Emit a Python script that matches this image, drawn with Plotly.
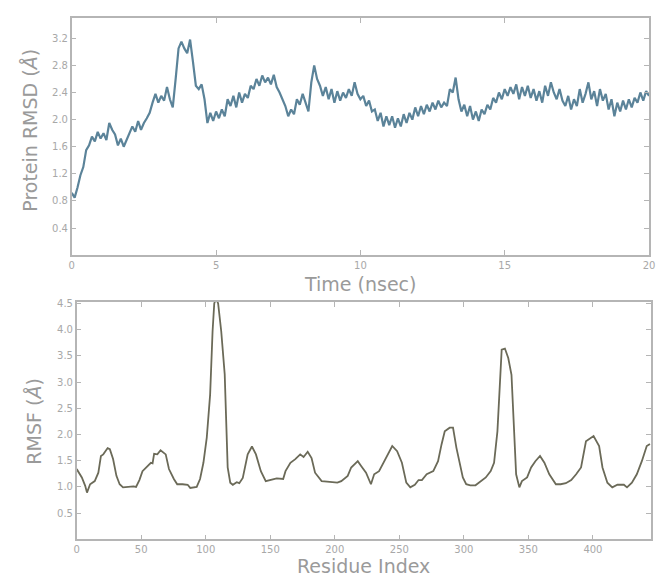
import plotly.graph_objects as go

# ---------------- data ----------------
time_ns = [round(i * 0.1, 1) for i in range(201)]
rmsd = [
    0.92, 0.85, 1.00, 1.18, 1.30, 1.55, 1.62, 1.75, 1.68, 1.82,
    1.72, 1.80, 1.70, 1.95, 1.85, 1.78, 1.62, 1.72, 1.60, 1.70,
    1.78, 1.90, 1.82, 1.98, 1.85, 1.95, 2.02, 2.10, 2.25, 2.38,
    2.25, 2.35, 2.28, 2.48, 2.30, 2.18, 2.60, 3.05, 3.15, 3.05,
    2.98, 3.18, 2.85, 2.50, 2.45, 2.52, 2.30, 1.95, 2.10, 1.98,
    2.12, 2.02, 2.15, 2.05, 2.30, 2.20, 2.35, 2.18, 2.40, 2.25,
    2.38, 2.32, 2.50, 2.45, 2.60, 2.50, 2.65, 2.55, 2.62, 2.52,
    2.66, 2.48, 2.40, 2.30, 2.20, 2.05, 2.15, 2.08, 2.30, 2.22,
    2.38, 2.25, 2.12, 2.55, 2.80, 2.60, 2.50, 2.35, 2.48, 2.30,
    2.45, 2.25, 2.42, 2.28, 2.40, 2.32, 2.45, 2.35, 2.55, 2.38,
    2.30, 2.35, 2.20, 2.28, 2.12, 2.15, 1.98, 2.10, 1.90, 2.05,
    1.92, 2.05, 1.88, 2.02, 1.90, 2.08, 1.95, 2.10, 2.00, 2.18,
    2.05, 2.20, 2.08, 2.22, 2.12, 2.25, 2.15, 2.28, 2.18, 2.25,
    2.20, 2.45, 2.40, 2.62, 2.30, 2.12, 2.22, 2.05, 2.20, 2.00,
    2.12, 1.98, 2.15, 2.08, 2.22, 2.15, 2.32, 2.25, 2.40, 2.30,
    2.45, 2.35, 2.48, 2.38, 2.52, 2.30, 2.48, 2.35, 2.50, 2.32,
    2.45, 2.28, 2.42, 2.25, 2.50, 2.35, 2.55, 2.40, 2.30, 2.45,
    2.28, 2.20, 2.35, 2.15, 2.30, 2.20, 2.45, 2.25, 2.38, 2.55,
    2.30, 2.42, 2.20, 2.45, 2.28, 2.38, 2.15, 2.30, 2.05, 2.25,
    2.12, 2.28, 2.15, 2.30, 2.18, 2.32, 2.25, 2.40, 2.28, 2.42,
    2.35,
]

residue = [
    0, 4, 6.6, 8, 10.4, 14, 16.8, 18.8, 20.6, 24, 25.7, 28.2, 30.8, 33.3, 35.9,
    40, 44, 46, 48.6, 51, 55, 57.5, 58.8, 60, 62.5, 65, 69, 71.5, 75.3, 77.9,
    82, 86, 88, 93, 95.6, 98.2, 100.8, 103.4, 105.3, 106.6, 108, 109.6, 112,
    114.7, 117, 119, 121, 124, 126, 128.7, 132.5, 135.8, 138.9, 142.7, 146.5,
    150, 155, 160, 161.8, 165.6, 169.4, 173.2, 175.8, 179, 182, 184.7, 189.8,
    194, 198, 202, 205, 210, 212.7, 217.8, 220.4, 224.2, 228, 230.5, 234.3,
    239.4, 244.5, 248.3, 252, 255.4, 258.5, 262, 264.9, 267.5, 271.2, 276.3,
    280, 282.7, 285.2, 289, 291.6, 294.2, 296.7, 299.2, 301.8, 305, 309,
    313.2, 317, 320.8, 323.4, 326, 327.7, 329.3, 331.8, 334.4, 336.9, 338.7,
    340.5, 343, 345, 349, 352.1, 355.4, 359, 362.4, 366.2, 371.3, 375, 379,
    383.2, 387, 390.8, 394.6, 400.5, 404.8, 407.4, 411.2, 415, 419, 424,
    426.4, 430.2, 434, 437.9, 441.7, 444.2,
]
rmsf = [
    1.34, 1.18, 1.02, 0.89, 1.05, 1.11, 1.27, 1.59, 1.62, 1.74, 1.72, 1.53, 1.21, 1.05, 0.99,
    1.00, 1.01, 1.00, 1.13, 1.30, 1.40, 1.46, 1.45, 1.63, 1.62, 1.70, 1.62, 1.34, 1.15, 1.05,
    1.05, 1.04, 0.98, 1.00, 1.15, 1.46, 1.94, 2.76, 3.97, 4.50, 4.60, 4.50, 3.97,
    3.15, 1.37, 1.08, 1.04, 1.09, 1.07, 1.17, 1.62, 1.77, 1.62, 1.30, 1.11,
    1.13, 1.16, 1.15, 1.30, 1.46, 1.53, 1.62, 1.57, 1.67, 1.55, 1.27, 1.11,
    1.10, 1.09, 1.08, 1.11, 1.21, 1.37, 1.49, 1.40, 1.27, 1.05, 1.24, 1.30,
    1.55, 1.78, 1.68, 1.46, 1.08, 0.99, 1.04, 1.13, 1.13, 1.24, 1.30,
    1.49, 1.81, 2.06, 2.13, 2.13, 1.75, 1.43, 1.18, 1.05, 1.03, 1.03,
    1.11, 1.18, 1.30, 1.46, 2.06, 2.89, 3.62, 3.64, 3.46, 3.14, 2.06,
    1.24, 0.99, 1.11, 1.18, 1.37, 1.49, 1.59, 1.46, 1.24, 1.05, 1.05, 1.07,
    1.13, 1.24, 1.37, 1.87, 1.97, 1.78, 1.37, 1.08, 0.99, 1.04, 1.04,
    0.99, 1.08, 1.24, 1.49, 1.78, 1.82,
]

top_xticks = [0, 5, 10, 15, 20]
top_yticks = [0.4, 0.8, 1.2, 1.6, 2.0, 2.4, 2.8, 3.2]
bot_xticks = [0, 50, 100, 150, 200, 250, 300, 350, 400]
bot_yticks = [0.5, 1.0, 1.5, 2.0, 2.5, 3.0, 3.5, 4.0, 4.5]

# ---------------- figure ----------------
W, H = 657, 576
FONT = "DejaVu Sans"
FRAME = "#b5b5b5"
TICKLBL = "#a8a8a8"
TITLE = "#9a9a9a"

fig = go.Figure()
fig.add_trace(go.Scatter(x=time_ns, y=rmsd, mode="lines",
                         line=dict(color="#5b8399", width=2.2),
                         xaxis="x", yaxis="y", showlegend=False))
fig.add_trace(go.Scatter(x=residue, y=rmsf, mode="lines",
                         line=dict(color="#6b6a58", width=1.8),
                         xaxis="x2", yaxis="y2", showlegend=False))

def ax(**kw):
    base = dict(showgrid=False, zeroline=False, showline=True, linecolor=FRAME,
                linewidth=1.5, mirror="ticks", ticks="inside", ticklen=5,
                tickcolor=FRAME, ticklabeloverflow="allow",
                tickfont=dict(family=FONT, size=10, color=TICKLBL))
    base.update(kw)
    return base

fig.update_layout(
    width=W, height=H,
    margin=dict(l=0, r=0, t=0, b=0),
    paper_bgcolor="white", plot_bgcolor="white",
    xaxis=ax(domain=[69.7 / W, 655 / W], range=[0, 20], tickvals=top_xticks,
             anchor="y"),
    yaxis=ax(domain=[1 - 253 / H, 1 - 14 / H], range=[0, 3.5], tickvals=top_yticks,
             tickformat=".1f", anchor="x"),
    xaxis2=ax(domain=[74.7 / W, 1.0], range=[0, 445], tickvals=bot_xticks,
              anchor="y2"),
    yaxis2=ax(domain=[1 - 539 / H, 1 - 300 / H], range=[0, 4.53], tickvals=bot_yticks,
              tickformat=".1f", anchor="x2"),
)

def label(text, x, y, angle=0):
    fig.add_annotation(text=text, x=x / W, y=1 - y / H, xref="paper", yref="paper",
                       showarrow=False, textangle=angle, xanchor="center", yanchor="middle",
                       font=dict(family=FONT, size=19, color=TITLE))

label("Time (nsec)", 362, 282)
label("Residue Index", 365, 566)
label("Protein RMSD (<i>Å</i>)", 28, 127, -90)
label("RMSF (<i>Å</i>)", 32, 421, -90)

fig.write_html("out.html")
